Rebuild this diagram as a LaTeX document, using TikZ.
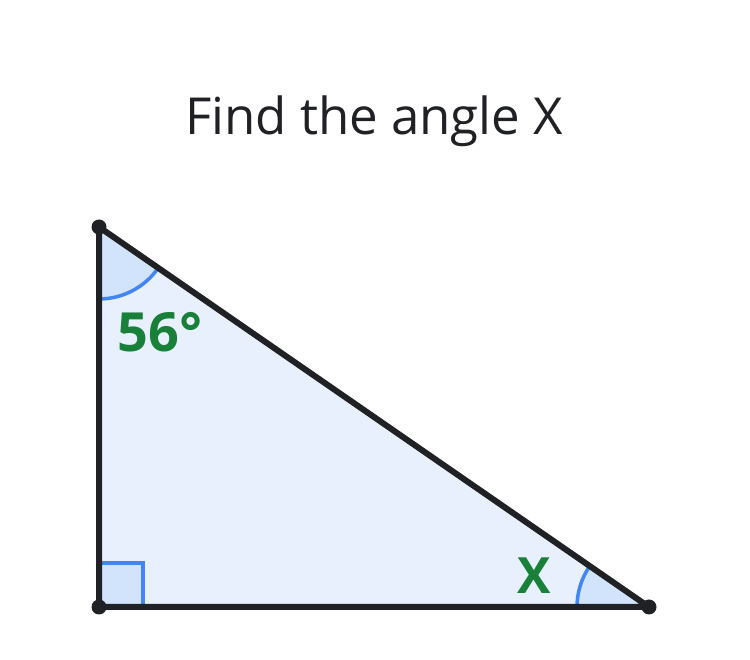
\documentclass[tikz,border=0pt]{standalone}
\usepackage{fontspec}
\setmainfont{Open Sans}
\usepackage{xcolor}
\usetikzlibrary{angles,calc,positioning,quotes}
\definecolor{ink}{HTML}{202124}
\definecolor{paleblue}{HTML}{E8F0FE}
\definecolor{angleblue}{HTML}{D2E3FC}
\definecolor{arcblue}{HTML}{4285F4}
\definecolor{labelgreen}{HTML}{188038}
\tikzset{%
	side/.style     = {draw=ink, line width=6pt, line join=round, line cap=round},
	vertex/.style   = {circle, fill=ink, inner sep=0pt, minimum size=15pt},
	anglemark/.style = {draw=arcblue, fill=angleblue, line width=3.5pt, angle radius=72pt},
	rightmark/.style = {draw=arcblue, fill=angleblue, line width=3.5pt, angle radius=44pt},
	title/.style    = {text=ink, font=\fontsize{51}{60}\selectfont, anchor=base},
	label/.style    = {text=labelgreen, font=\bfseries\fontsize{50}{58}\selectfont},
}

\begin{document}
\begin{tikzpicture}[x=1pt,y=1pt]
	\useasboundingbox (0,0) rectangle (750,660);
	\coordinate (a) at (99,433);
	\coordinate (b) at (99,53);
	\coordinate (c) at (649,53);

	\fill[paleblue] (a) -- (b) -- (c) -- cycle;
	\pic [anglemark] {angle = b--a--c};
	\pic [anglemark] {angle = a--c--b};
	\pic [rightmark] {right angle = c--b--a};
	\draw[side] (a) -- (b) -- (c) -- cycle;

	\node [vertex] (va) at (a) {};
	\node [vertex] (vb) at (b) {};
	\node [vertex] (vc) at (c) {};

	\node [title] (head) at (374,525) {Find the angle X};
	\node [label, font=\bfseries\fontsize{54}{60}\selectfont] (top) at (160,328) {56°};
	\node [label] (bot) at (534,84) {X};
\end{tikzpicture}
\end{document}
